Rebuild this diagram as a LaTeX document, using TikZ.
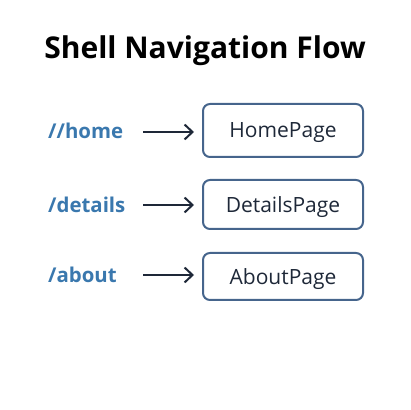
\documentclass[tikz,border=0pt]{standalone}
\usepackage{fontspec}
\setmainfont{Open Sans}
\usetikzlibrary{arrows.meta}
\definecolor{routeblue}{HTML}{3A78AE}
\definecolor{boxline}{HTML}{46658C}
\definecolor{inkdark}{HTML}{1E2838}

\begin{document}
\begin{tikzpicture}
[x=1pt,y=1pt,%
  route/.style={anchor=west,text=routeblue,font=\fontsize{20.4}{24}\selectfont\bfseries,inner sep=0pt},%
  page/.style={draw=boxline,line width=2pt,rounded corners=7pt,minimum width=160pt,minimum height=50pt,text depth=0pt,text=inkdark,font=\fontsize{21}{24}\selectfont},%
  link/.style={draw=inkdark,line width=2pt,-{Straight Barb[length=8pt,width=15pt,line width=2pt]},shorten >=8pt}]
\useasboundingbox (0,0) rectangle (410,410);
\node[font=\fontsize{30}{34}\selectfont\bfseries] (title) at (205,359) {Shell Navigation Flow};
% routes
\node[route] (home) at (48,279) {//home};
\node[route] (details) at (48,205) {/details};
\node[route] (about) at (48,135) {/about};
% pages
\node[page,minimum height=53pt] (homepage) at (283,279.5) {HomePage};
\node[page,minimum height=49pt] (detailspage) at (283,205.5) {DetailsPage};
\node[page,minimum height=47pt] (aboutpage) at (283,133.5) {AboutPage};
% arrows
\coordinate (s1) at (143,278);
\coordinate (s2) at (143,205);
\coordinate (s3) at (143,135);
\draw[link] (s1) -- (s1 -| homepage.west);
\draw[link] (s2) -- (s2 -| detailspage.west);
\draw[link] (s3) -- (s3 -| aboutpage.west);
\end{tikzpicture}
\end{document}
